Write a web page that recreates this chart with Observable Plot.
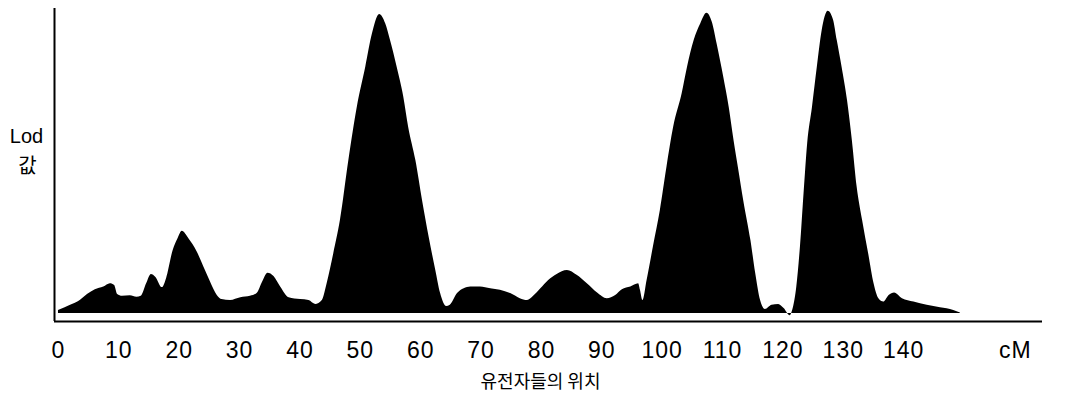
<!DOCTYPE html>
<html><head><meta charset="utf-8">
<script src="https://cdn.jsdelivr.net/npm/d3@7"></script>
<script src="https://cdn.jsdelivr.net/npm/@observablehq/plot@0.6"></script>
<style>
html,body{margin:0;padding:0;background:#fff;}
#chart svg{display:block;}
#chart g[aria-label="x-axis tick label"] text{letter-spacing:1px;}
</style></head><body><div id="chart"></div>
<script>
// Gene position (cM)
const positions = [
  0, 2.0, 3.6, 4.8, 6.1, 7.5, 8.6, 9.3, 9.8, 10.6,
  11.9, 13.0, 13.7, 14.6, 15.4, 16.1, 17.2, 17.9, 19.0, 19.8,
  20.5, 21.6, 23.0, 24.1, 25.2, 26.3, 27.1, 28.5, 30.2, 31.8,
  32.9, 33.8, 34.7, 35.7, 36.8, 38.2, 40.1, 41.5, 42.6, 43.7,
  44.5, 45.6, 46.7, 48.1, 49.5, 50.9, 52.0, 53.2, 54.2, 55.0,
  56.1, 57.2, 58.0, 59.2, 60.3, 61.4, 62.5, 63.3, 64.3, 64.9,
  66.1, 67.2, 68.3, 69.9, 71.6, 73.2, 74.9, 76.5, 77.7, 78.7,
  79.9, 81.2, 82.6, 84.3, 85.9, 87.6, 89.3, 90.9, 92.3, 93.4,
  94.8, 96.1, 96.4, 96.8, 97.5, 98.6, 99.7, 100.8, 101.9, 103.3,
  104.2, 105.3, 106.4, 107.4, 108.3, 109.1, 110.2, 111.1, 111.9, 112.7,
  113.5, 114.7, 115.5, 116.3, 117.1, 118.2, 119.3, 120.2, 121.2, 121.7,
  122.3, 122.9, 123.5, 124.1, 124.9, 125.7, 126.5, 127.5, 128.4, 129.0,
  129.8, 130.7, 131.5, 132.3, 133.2, 134.2, 135.1, 135.9, 136.7, 137.6,
  138.5, 139.8, 141.7, 143.9, 146.1, 148.3, 149.4
];
// LOD score (arbitrary units)
const lodValues = [
  0.10, 0.27, 0.43, 0.63, 0.79, 0.88, 0.99, 0.93, 0.63, 0.57,
  0.59, 0.54, 0.57, 0.99, 1.30, 1.21, 0.86, 1.16, 2.10, 2.49,
  2.74, 2.49, 2.04, 1.54, 1.04, 0.60, 0.46, 0.43, 0.52, 0.57,
  0.66, 1.04, 1.34, 1.23, 0.88, 0.52, 0.46, 0.43, 0.30, 0.43,
  0.99, 1.99, 3.10, 5.10, 6.88, 8.21, 9.32, 9.97, 9.66, 9.10,
  8.21, 7.21, 6.21, 5.10, 3.77, 2.54, 1.43, 0.66, 0.23, 0.27,
  0.66, 0.82, 0.88, 0.88, 0.82, 0.77, 0.66, 0.49, 0.43, 0.57,
  0.82, 1.10, 1.30, 1.43, 1.27, 0.99, 0.68, 0.49, 0.60, 0.79,
  0.88, 0.99, 0.77, 0.43, 1.10, 2.27, 3.43, 4.88, 6.21, 7.32,
  8.21, 9.10, 9.66, 10.01, 9.71, 8.99, 7.88, 6.88, 5.77, 4.77,
  3.77, 2.43, 1.32, 0.43, 0.13, 0.27, 0.30, 0.16, -0.08, 0.16,
  0.88, 2.21, 3.99, 5.66, 6.88, 8.21, 9.43, 10.08, 9.77, 9.10,
  8.21, 7.10, 5.77, 4.21, 3.10, 1.99, 0.99, 0.49, 0.38, 0.60,
  0.68, 0.49, 0.38, 0.27, 0.19, 0.10, 0.01
];
const tickValues = [0, 10, 20, 30, 40, 50, 60, 70, 80, 90, 100, 110, 120, 130, 140, 158.5];
const tickLabels = ["0", "10", "20", "30", "40", "50", "60", "70", "80", "90", "100", "110", "120", "130", "140", "cM"];
const yLabelTop = "Lod";
const yLabelBottom = "값";
const xLabel = "유전자들의 위치";

const data = positions.map((x, i) => ({x, y: lodValues[i]}));
const labelMap = new Map(tickValues.map((v, i) => [v, tickLabels[i]]));
const xDomain = [-0.66, 163];
const yDomain = [-0.27, 10.17];
const latin = "'Liberation Sans Narrow', 'Liberation Sans', Arial, sans-serif";
const korean = "'Noto Sans CJK KR', sans-serif";

const chart = Plot.plot({
  width: 1076, height: 399,
  marginLeft: 54, marginRight: 34, marginTop: 8, marginBottom: 78,
  x: {domain: xDomain, axis: null},
  y: {domain: yDomain, axis: null},
  style: {background: "#fff", color: "#000", fontFamily: latin},
  marks: [
    Plot.areaY(data, {x: "x", y: "y", fill: "#000", curve: "monotone-x"}),
    Plot.ruleX([xDomain[0]], {stroke: "#000", strokeWidth: 2}),
    Plot.ruleY([yDomain[0]], {stroke: "#000", strokeWidth: 2}),
    Plot.axisX(tickValues, {tickSize: 0, tickPadding: 20, tickFormat: d => labelMap.get(d), fontSize: 23, fontFamily: latin, label: null}),
    Plot.text([xLabel], {frameAnchor: "bottom", dy: 61, dx: -8, textAnchor: "middle", lineAnchor: "middle", fontSize: 18, fontFamily: korean, fill: "#000"}),
    Plot.text([yLabelTop], {frameAnchor: "top-left", dx: -28, dy: 128, textAnchor: "middle", lineAnchor: "middle", fontSize: 20, fontFamily: "'Liberation Sans', Arial, sans-serif", fill: "#000", style: "letter-spacing:1px"}),
    Plot.text([yLabelBottom], {frameAnchor: "top-left", dx: -27, dy: 158, textAnchor: "middle", lineAnchor: "middle", fontSize: 20, fontFamily: korean, fill: "#000"})
  ]
});
document.getElementById("chart").append(chart);
</script>
</body></html>
